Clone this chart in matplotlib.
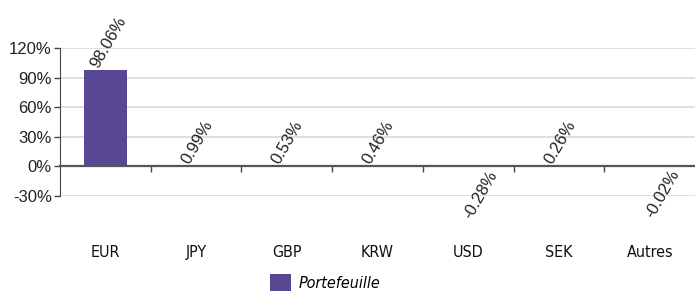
import matplotlib.pyplot as plt
import matplotlib.transforms as mtransforms
from matplotlib.patches import Patch

# Données d'exposition par devise
devises = ["EUR", "JPY", "GBP", "KRW", "USD", "SEK", "Autres"]
valeurs = [98.06, 0.99, 0.53, 0.46, -0.28, 0.26, -0.02]
graduations = [-30, 0, 30, 60, 90, 120]

couleur = "#584894"
police_etroite = "DejaVu Sans"

fig = plt.figure(figsize=(6.95, 2.93), dpi=100)
ax = fig.add_axes([0.0863, 0.331, 0.914, 0.505])

x = list(range(len(devises)))
ax.bar(x, valeurs, width=0.48, color=couleur, zorder=3)

# Étiquettes des valeurs
for xi, v in zip(x, valeurs):
    texte = f"{v:.2f}%"
    if v >= 0:
        ax.text(xi - 0.12, v + 3, texte, rotation=60, rotation_mode="anchor",
                ha="left", va="center", fontsize=12, family="Liberation Sans",
                color="#222222")
    else:
        ax.text(xi + 0.28, v - 5, texte, rotation=60, rotation_mode="anchor",
                ha="right", va="center", fontsize=12, family="Liberation Sans",
                color="#222222", clip_on=False)

# Axes
ax.set_xlim(-0.5, len(devises) - 0.5)
ax.set_ylim(-30, 120)
ax.set_yticks(graduations)
ax.set_yticklabels([f"{g}%" for g in graduations], fontsize=12,
                   family="Liberation Sans", color="#222222")
ax.yaxis.grid(True, color="#d9d9d9", linewidth=1.2, zorder=0)
ax.tick_params(axis="y", length=4, color="#444444", width=1, pad=2)

ax.spines["top"].set_visible(False)
ax.spines["right"].set_visible(False)
ax.spines["left"].set_color("#444444")
ax.spines["bottom"].set_position(("data", 0))
ax.spines["bottom"].set_color("#555555")
ax.spines["bottom"].set_linewidth(1.6)
ax.spines["bottom"].set_zorder(4)

ax.set_xticks([i + 0.5 for i in x[:-1]])
ax.set_xticklabels([])
ax.tick_params(axis="x", length=4, color="#444444", width=1)

# Libellés des devises sous le graphique
trans = mtransforms.blended_transform_factory(ax.transData, ax.transAxes)
for xi, d in zip(x, devises):
    ax.text(xi, -0.33, d, transform=trans, ha="center", va="top",
            fontsize=11.5, family=police_etroite, stretch="condensed",
            color="#111111")

# Légende
poignee = Patch(facecolor=couleur, edgecolor="none", label="Portefeuille")
fig.legend(handles=[poignee], loc="center", bbox_to_anchor=(0.468, 0.035),
           frameon=False, handlelength=1.3, handleheight=1.3, handletextpad=0.5,
           prop={"family": police_etroite, "style": "italic", "size": 11.5,
                 "stretch": "condensed"})

fig.savefig("out.png", dpi=100)
